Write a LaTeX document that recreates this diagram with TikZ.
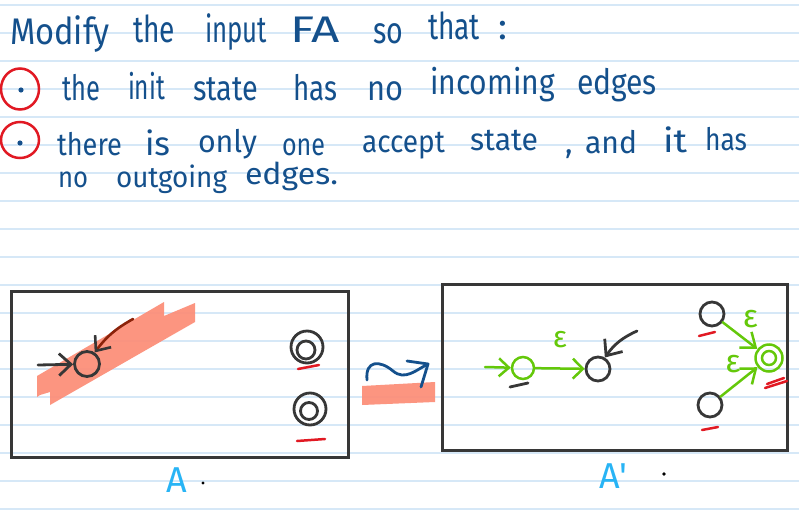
\documentclass[tikz,border=0pt]{standalone}
\usepackage{fontspec}
\setmainfont{Fira Sans}
\usepackage{graphicx}
\usetikzlibrary{arrows.meta,calc,shapes.geometric}
\definecolor{ink}{RGB}{20,80,140}
\definecolor{ruleblue}{RGB}{214,232,247}
\definecolor{pen}{RGB}{55,55,55}
\definecolor{grn}{RGB}{100,200,10}
\definecolor{redm}{RGB}{225,25,35}
\definecolor{salm}{RGB}{252,140,118}
\definecolor{cyanl}{RGB}{40,180,245}
\definecolor{brn}{RGB}{140,35,10}
\tikzset{
  hw/.style={anchor=base west, inner sep=0pt, outer sep=0pt, text=ink},
  ruleline/.style={draw=ruleblue, line width=1.6pt},
  framebox/.style={rectangle, draw=pen, line width=3pt, inner sep=0pt},
  statebk/.style={circle, draw=pen, line width=2.8pt, inner sep=0pt},
  stategr/.style={circle, draw=grn, line width=2.5pt, inner sep=0pt},
  blkpen/.style={draw=pen, line width=2.8pt, line cap=round},
  grnpen/.style={draw=grn, line width=2.5pt, line cap=round},
  redmark/.style={draw=redm, line width=2.5pt, line cap=round},
  bulletring/.style={ellipse, draw=redm, line width=2.5pt, inner sep=0pt},
  epslabel/.style={text=grn, inner sep=0pt, font=\fontsize{32}{32}\selectfont},
  cyanlabel/.style={text=cyanl, inner sep=0pt, anchor=base west, font=\fontsize{36}{36}\selectfont},
  highlight/.style={fill=salm, fill opacity=0.92, draw=none}
}
\newcommand\hwtext[6]{\node[hw, font=\fontsize{#5}{#5}\selectfont] (#1) at (#2,#3) {\resizebox{#4pt}{\height}{#6}};}
\begin{document}
\begin{tikzpicture}[x=1pt,y=-1pt]
\fill[white] (0,0) rectangle (799,511);
\useasboundingbox (0,0) rectangle (799,511);
% ruled paper
\foreach \k in {0,...,18} {\draw[ruleline] (0,5+28*\k) -- (799,5+28*\k);}

% ---- heading text ----
\hwtext{t1a}{10}{45}{100}{37}{Modify}
\hwtext{t1b}{133}{43}{42}{37}{the}
\hwtext{t1c}{205}{43}{62}{37}{input}
\hwtext{t1d}{290}{43}{50}{37}{FA}
\hwtext{t1e}{373}{43}{30}{37}{so}
\hwtext{t1f}{428}{40}{52}{37}{that}
\node[hw, font=\fontsize{37}{37}\selectfont] (t1g) at (498,40) {:};

\hwtext{t2a}{62}{100}{38}{35}{the}
\hwtext{t2b}{128}{99}{37}{35}{init}
\hwtext{t2c}{193}{100}{65}{35}{state}
\hwtext{t2d}{293}{100}{44}{35}{has}
\hwtext{t2e}{367}{100}{36}{35}{no}
\hwtext{t2f}{430}{94}{125}{35}{incoming}
\hwtext{t2g}{577}{94}{80}{35}{edges}

\hwtext{t3a}{57}{155}{65}{31}{there}
\hwtext{t3b}{145}{155}{25}{33}{is}
\hwtext{t3c}{198}{152}{59}{31}{only}
\hwtext{t3d}{282}{155}{43}{31}{one}
\hwtext{t3e}{362}{152}{83}{31}{accept}
\hwtext{t3f}{470}{150}{68}{31}{state}
\node[hw, font=\fontsize{31}{31}\selectfont] (t3g) at (565,153) {,};
\hwtext{t3h}{585}{153}{52}{31}{and}
\hwtext{t3i}{663}{152}{24}{33}{it}
\hwtext{t3j}{705}{150}{42}{31}{has}

\hwtext{t4a}{58}{187}{30}{29}{no}
\hwtext{t4b}{116}{187}{111}{29}{outgoing}
\hwtext{t4c}{245}{184}{93}{30}{edges.}

% bullets
\node[bulletring, minimum width=38pt, minimum height=41pt] (b1) at (20,89) {};
\node[bulletring, minimum width=38pt, minimum height=36pt] (b2) at (20,140) {};
\fill[ink] ($(b1.center)+(1,1)$) circle (2.6);
\fill[ink] ($(b2.center)+(0,3)$) circle (2.6);

% ---- boxes ----
\node[framebox, minimum width=337pt, minimum height=166pt] (boxA) at (179.5,374) {};
\node[framebox, minimum width=345pt, minimum height=166pt] (boxB) at (614.5,367) {};

% ---- automaton A ----
\fill[highlight] (37,376) -- (164,302) -- (164,316) -- (195,303) -- (195,322)
  -- (50,405) -- (50,392) -- (40,395) -- (37,397) -- cycle;
\node[statebk, minimum size=25pt] (qA0) at (87,364) {};
\node[statebk, minimum size=32pt] (qA1) at (307,347) {};
\draw[blkpen] ($(qA1.center)+(-1,3)$) circle (9);
\node[statebk, minimum size=32pt] (qA2) at (310,409) {};
\draw[blkpen] ($(qA2.center)+(-1,2)$) circle (8.5);
\coordinate (inA) at (38,365);
\coordinate (inA2) at (133,319);
\draw[blkpen, -{Straight Barb[length=12pt,width=22pt]}] (inA) -- (qA0);
\draw[draw=brn, line width=2.6pt, line cap=round, -{Straight Barb[length=12pt,width=20pt,color=pen]}] (inA2) to[bend right=12] (qA0);
\draw[redmark] ($(qA1.center)+(-9,22)$) -- ++(21,-4);
\draw[redmark] ($(qA2.center)+(-13,32)$) -- ++(28,-2);

% ---- transformation arrow ----
\fill[highlight] (362,386) -- (435,382) -- (435,402) -- (362,405) -- cycle;
\coordinate (sq0) at (367,380);
\coordinate (sqtip) at (428,364);
\draw[draw=ink, line width=2.8pt, line cap=round, line join=round]
  (sq0) .. controls (365,360) and (380,360) .. (393,371)
  .. controls (405,381) and (416,370) .. (sqtip);
\draw[draw=ink, line width=2.8pt, line cap=round, line join=round]
  ($(sqtip)+(-21,-3)$) -- (sqtip) -- ($(sqtip)+(-7,23)$);

% ---- automaton A' ----
\node[stategr, minimum size=22pt] (qB0) at (523,368) {};
\node[statebk, minimum size=24pt] (qB1) at (598,369) {};
\node[statebk, minimum size=24pt] (qB2) at (712,314) {};
\node[statebk, minimum size=24pt] (qB3) at (710,405) {};
\node[stategr, minimum size=27pt] (qBf) at (769,358) {};
\draw[grnpen] (qBf.center) circle (7);
\coordinate (inB0) at (485,367);
\coordinate (inB1) at (637,331);
\draw[grnpen, -{Straight Barb[length=10pt,width=18pt]}] (inB0) -- (qB0);
\draw[grnpen, -{Straight Barb[length=10pt,width=20pt]}] (qB0) -- (qB1)
  node[epslabel, midway, above=19pt, font=\fontsize{30}{30}\selectfont] (e1) {ε};
\draw[blkpen, -{Straight Barb[length=13pt,width=22pt]}] (inB1) to[bend right=15] (qB1);
\draw[grnpen, -{Straight Barb[length=13pt,width=20pt]}] (qB2) -- (qBf)
  node[epslabel, pos=0.45, xshift=12pt, yshift=15pt] (e2) {ε};
\draw[grnpen, -{Straight Barb[length=13pt,width=20pt]}] (qB3) -- (qBf)
  node[epslabel, pos=0.55, xshift=-8pt, yshift=16pt] (e3) {ε};
\draw[draw=pen, line width=2.8pt, line cap=round] ($(qB0.center)+(-13,19)$) -- ++(18,-4);
\draw[redmark] ($(qB2.center)+(-13,22)$) -- ++(16,-4);
\draw[redmark] ($(qB3.center)+(-8,25)$) -- ++(16,-3);
\draw[redmark] ($(qBf.center)+(-4,30)$) -- ++(22,-7);
\draw[redmark] ($(qBf.center)+(-2,26)$) -- ++(17,-6);

% ---- labels ----
\node[cyanlabel] (labA) at (166,492) {A};
\fill[black] (203,483) circle (1.6);
\node[cyanlabel] (labB) at (599,488) {A\textquotesingle};
\fill[black] (664,474) circle (1.8);
\end{tikzpicture}
\end{document}
